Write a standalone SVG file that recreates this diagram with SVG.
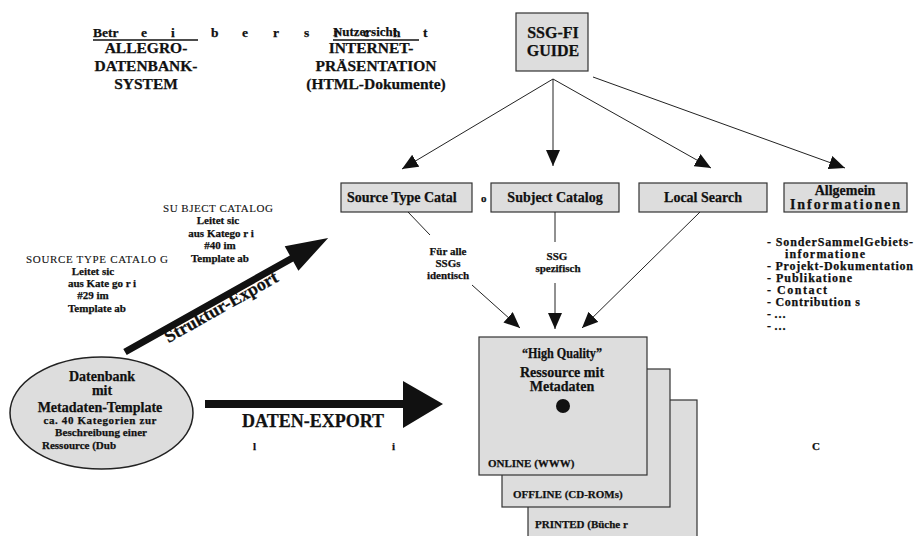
<svg xmlns="http://www.w3.org/2000/svg" width="916" height="536" viewBox="0 0 916 536">
<defs>
<style>
text{font-family:"Liberation Serif","Times New Roman",serif;fill:#111;font-weight:bold;stroke:#111;stroke-width:0.25}
.box{fill:#dddddd;stroke:#333;stroke-width:1.2}
.ln{stroke:#222;stroke-width:1;fill:none}
.hd{font-size:15.5px}
.bl{font-size:14px}
.tp{font-size:13.5px}
.sm{font-size:11px}
.li{font-size:12px}
.c{text-anchor:middle}
.nw{font-weight:normal;stroke-width:0.1}
</style>
<marker id="ah" viewBox="0 0 16 14" refX="16" refY="7" markerWidth="16" markerHeight="14" markerUnits="userSpaceOnUse" orient="auto">
<path d="M0,0 L16,7 L0,14 z" fill="#111"/>
</marker>
</defs>
<rect width="916" height="536" fill="#fff"/>

<g id="header-betreiber">
<text class="tp" y="37"><tspan x="93">Betr</tspan><tspan x="141">e</tspan><tspan x="171">i</tspan><tspan x="211">b</tspan><tspan x="242">e</tspan><tspan x="273">r</tspan><tspan x="304">s</tspan><tspan x="334">i</tspan><tspan x="363">c</tspan><tspan x="393">h</tspan><tspan x="423">t</tspan></text>
<line x1="93" y1="40" x2="198" y2="40" stroke="#111" stroke-width="1.3"/>
<text class="hd c" x="146" y="53">ALLEGRO-</text>
<text class="hd c" x="146" y="71">DATENBANK-</text>
<text class="hd c" x="146" y="89">SYSTEM</text>
</g>

<g id="header-nutzer">
<text class="tp" x="333" y="36" textLength="64" lengthAdjust="spacingAndGlyphs">Nutzersicht</text>
<line x1="333" y1="40" x2="419" y2="40" stroke="#111" stroke-width="1.3"/>
<text class="hd c" x="371" y="53">INTERNET-</text>
<text class="hd c" x="376" y="71">PRÄSENTATION</text>
<text class="hd c" x="376" y="89">(HTML-Dokumente)</text>
</g>

<g id="ssg-fi-guide">
<rect class="box" x="516" y="13" width="72" height="58"/>
<text class="c" x="553" y="38" font-size="16">SSG-FI</text>
<text class="c" x="553" y="56" font-size="16">GUIDE</text>
</g>

<g id="source-type-catalog">
<rect class="box" x="341" y="183" width="131" height="29"/>
<text class="bl" x="347" y="202">Source Type Catal</text>
</g>
<text class="sm" x="481" y="202">o</text>

<g id="subject-catalog">
<rect class="box" x="491" y="183" width="128" height="29"/>
<text class="bl c" x="555" y="202">Subject Catalog</text>
</g>

<g id="local-search">
<rect class="box" x="639" y="183" width="128" height="29"/>
<text class="bl c" x="703" y="202">Local Search</text>
</g>

<g id="allgemein">
<rect class="box" x="784" y="183" width="123" height="29"/>
<text class="bl c" x="845" y="195">Allgemein</text>
<text class="bl c" x="845" y="209" textLength="110" lengthAdjust="spacing">Informationen</text>
</g>

<g id="allgemein-list">
<text class="li" x="767" y="246" textLength="146" lengthAdjust="spacing">- SonderSammelGebiets-</text>
<text class="li" x="785" y="258" textLength="80" lengthAdjust="spacing">informatione</text>
<text class="li" x="767" y="270" textLength="146" lengthAdjust="spacing">- Projekt-Dokumentation</text>
<text class="li" x="767" y="282" textLength="85" lengthAdjust="spacing">- Publikatione</text>
<text class="li" x="767" y="294" textLength="60" lengthAdjust="spacing">- Contact</text>
<text class="li" x="767" y="306" textLength="93" lengthAdjust="spacing">- Contribution s</text>
<text class="li" x="767" y="318">- …</text>
<text class="li" x="767" y="330">- …</text>
</g>

<g id="catalog-notes">
<text class="sm nw c" x="218" y="212" textLength="110" lengthAdjust="spacing">SU BJECT CATALOG</text>
<text class="sm c" x="218" y="224">Leitet sic</text>
<text class="sm c" x="221" y="237">aus Katego r i</text>
<text class="sm c" x="220" y="249">#40 im</text>
<text class="sm c" x="220" y="262">Template ab</text>
<text class="sm nw c" x="97" y="263" textLength="142" lengthAdjust="spacing">SOURCE TYPE CATALO G</text>
<text class="sm c" x="93" y="275">Leitet sic</text>
<text class="sm c" x="102" y="287">aus Kate go r i</text>
<text class="sm c" x="93" y="299">#29 im</text>
<text class="sm c" x="97" y="312">Template ab</text>
</g>

<g id="datenbank">
<ellipse cx="101.5" cy="413" rx="91.5" ry="56" fill="#dddddd" stroke="#222" stroke-width="1.5"/>
<text class="c" x="102" y="381" font-size="14">Datenbank</text>
<text class="c" x="102" y="395" font-size="14">mit</text>
<text class="c" x="100" y="412" font-size="14">Metadaten-Template</text>
<text class="c" x="100" y="424" font-size="11" textLength="113" lengthAdjust="spacing">ca. 40 Kategorien zur</text>
<text class="c" x="101" y="436" font-size="11" textLength="92" lengthAdjust="spacing">Beschreibung einer</text>
<text x="42" y="449" font-size="11">Ressource (Dub</text>
</g>

<g id="ressource-stack">
<rect class="box" x="528" y="400" width="169" height="142"/>
<text class="sm" x="535" y="528">PRINTED (Büche r</text>
<rect class="box" x="502" y="369" width="168" height="138"/>
<text class="sm" x="513" y="498">OFFLINE (CD-ROMs)</text>
<rect class="box" x="479" y="337" width="168" height="138"/>
<text class="c" x="562" y="358" font-size="14" textLength="80" lengthAdjust="spacingAndGlyphs">“High Quality”</text>
<text class="c" x="562" y="377" font-size="14">Ressource mit</text>
<text class="c" x="562" y="391" font-size="14">Metadaten</text>
<circle cx="563" cy="406" r="7" fill="#111"/>
<text class="sm" x="488" y="467">ONLINE (WWW)</text>
</g>

<g id="connectors">
<line class="ln" x1="553" y1="79" x2="402" y2="169" marker-end="url(#ah)"/>
<line class="ln" x1="553" y1="79" x2="553" y2="166" marker-end="url(#ah)"/>
<line class="ln" x1="553" y1="79" x2="711" y2="168" marker-end="url(#ah)"/>
<line class="ln" x1="593" y1="77" x2="845" y2="168" marker-end="url(#ah)"/>
<line class="ln" x1="408" y1="212" x2="430" y2="235"/>
<line class="ln" x1="472" y1="285" x2="520" y2="328" marker-end="url(#ah)"/>
<line class="ln" x1="555" y1="212" x2="555" y2="242"/>
<line class="ln" x1="555" y1="283" x2="555" y2="329" marker-end="url(#ah)"/>
<line class="ln" x1="700" y1="212" x2="582" y2="328" marker-end="url(#ah)"/>
<polygon points="205,400 403,400 403,381 443,404 403,428 403,408 205,408" fill="#111"/>
<polygon transform="translate(125,352) rotate(-29.3)" points="0,-3.5 191,-3.5 191,-14 233,0 191,14 191,3.5 0,3.5" fill="#111"/>
</g>

<g id="connector-labels">
<text class="sm c" x="448" y="255">Für alle</text>
<text class="sm c" x="448" y="267">SSGs</text>
<text class="sm c" x="448" y="279">identisch</text>
<text class="sm c" x="557" y="260">SSG</text>
<text class="sm c" x="558" y="272">spezifisch</text>
<text class="c" x="313" y="427" font-size="18">DATEN-EXPORT</text>
<text class="c" transform="translate(224,312) rotate(-29.3)" font-size="18" stroke="#111" stroke-width="0.6">Struktur-Export</text>
<text class="sm" x="253" y="450">l</text>
<text class="sm" x="392" y="450">i</text>
<text class="sm" x="812" y="450">C</text>
</g>
</svg>
